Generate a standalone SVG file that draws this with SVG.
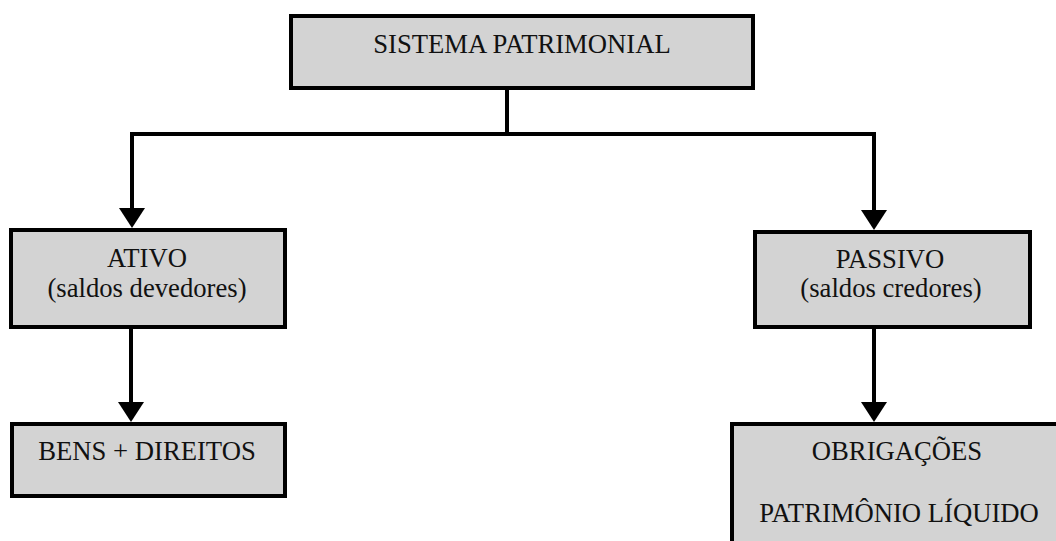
<svg xmlns="http://www.w3.org/2000/svg" width="1056" height="541" viewBox="0 0 1056 541">
  <style>
    .box { fill: #d3d3d3; stroke: #000; stroke-width: 4; }
    .lbl { font-family: "Liberation Serif", "Times New Roman", serif; font-size: 26.67px; fill: #111; text-anchor: middle; }
    .wire { fill: none; stroke: #000; stroke-width: 4; stroke-linejoin: miter; stroke-linecap: butt; }
  </style>
  <defs>
    <marker id="arrow" viewBox="0 0 20 26" refX="8" refY="13" markerWidth="20" markerHeight="26" markerUnits="userSpaceOnUse" orient="auto">
      <path d="M0,0 L20,13 L0,26 z" fill="#000"/>
    </marker>
  </defs>
  <rect width="1056" height="541" fill="#fff"/>

  <g id="connectors">
    <path class="wire" d="M507,90 V134 H132 V216" marker-end="url(#arrow)"/>
    <path class="wire" d="M507,134 H874 V218" marker-end="url(#arrow)"/>
    <path class="wire" d="M131,329 V410" marker-end="url(#arrow)"/>
    <path class="wire" d="M874,329 V410" marker-end="url(#arrow)"/>
  </g>

  <g id="sistema">
    <rect class="box" x="291" y="16" width="462" height="72"/>
    <text class="lbl" x="522" y="53">SISTEMA PATRIMONIAL</text>
  </g>

  <g id="ativo">
    <rect class="box" x="11" y="230" width="274" height="97"/>
    <text class="lbl" x="147" y="267">ATIVO</text>
    <text class="lbl" x="147" y="297">(saldos devedores)</text>
  </g>

  <g id="passivo">
    <rect class="box" x="755" y="232" width="275" height="95"/>
    <text class="lbl" x="890" y="268">PASSIVO</text>
    <text class="lbl" x="891" y="297">(saldos credores)</text>
  </g>

  <g id="bens">
    <rect class="box" x="12" y="424" width="273" height="72"/>
    <text class="lbl" x="147" y="460">BENS + DIREITOS</text>
  </g>

  <g id="obrigacoes">
    <rect class="box" x="732" y="424" width="340" height="140"/>
    <text class="lbl" x="897" y="460">OBRIGAÇÕES</text>
    <text class="lbl" x="899" y="522">PATRIMÔNIO LÍQUIDO</text>
  </g>
</svg>
